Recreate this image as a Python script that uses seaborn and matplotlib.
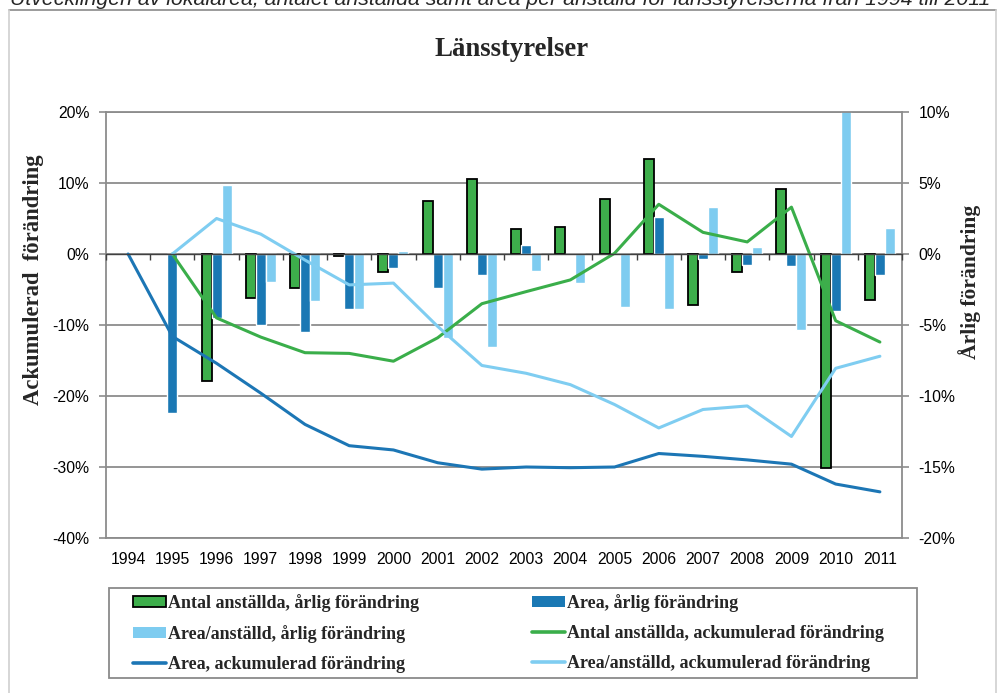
import numpy as np
import pandas as pd
import matplotlib
matplotlib.use("Agg")
import matplotlib.pyplot as plt
import seaborn as sns
from matplotlib.patches import Patch, Rectangle
from matplotlib.lines import Line2D
from matplotlib.ticker import FixedLocator, FuncFormatter, NullFormatter
from matplotlib.font_manager import FontProperties

# --- data (in percent) ---
years = ["1994", "1995", "1996", "1997", "1998", "1999", "2000", "2001", "2002",
         "2003", "2004", "2005", "2006", "2007", "2008", "2009", "2010", "2011"]

# annual change (right axis)
antal_arlig = [np.nan, np.nan, -8.97, -3.1, -2.4, -0.14, -1.24, 3.75, 5.3,
               1.75, 1.87, 3.9, 6.67, -3.58, -1.3, 4.6, -15.05, -3.23]
area_arlig = [np.nan, -11.2, -4.5, -5.0, -5.5, -3.9, -1.0, -2.4, -1.5,
              0.6, -0.1, -0.03, 2.6, -0.37, -0.8, -0.84, -4.0, -1.5]
per_arlig = [np.nan, np.nan, 4.85, -2.0, -3.3, -3.9, 0.23, -5.9, -6.55,
             -1.17, -2.06, -3.7, -3.86, 3.3, 0.5, -5.34, 11.0, 1.8]

# accumulated change (left axis)
antal_ack = [np.nan, 0.0, -9.0, -11.7, -13.9, -14.0, -15.1, -11.8, -7.0,
             -5.3, -3.65, 0.1, 7.0, 3.05, 1.7, 6.6, -9.4, -12.4]
area_ack = [0.0, -11.6, -15.4, -19.6, -24.0, -27.0, -27.6, -29.4, -30.3,
            -30.0, -30.1, -30.0, -28.1, -28.5, -29.0, -29.6, -32.4, -33.5]
per_ack = [np.nan, 0.0, 5.0, 2.8, -0.85, -4.35, -4.1, -10.2, -15.7,
           -16.8, -18.4, -21.2, -24.5, -21.9, -21.4, -25.7, -16.1, -14.4]

bar_names = ["Antal anställda, årlig förändring", "Area, årlig förändring",
             "Area/anställd, årlig förändring"]
line_names = ["Antal anställda, ackumulerad förändring", "Area, ackumulerad förändring",
              "Area/anställd, ackumulerad förändring"]

green_bar, dark_bar, light_bar = "#3DAE4B", "#1A78B4", "#7ECCF0"
green_line, dark_line, light_line = "#3AAE4A", "#1C76B5", "#7FCDF1"
grid_col = "#8c8c8c"

bars = pd.DataFrame({
    "år": years * 3,
    "värde": antal_arlig + area_arlig + per_arlig,
    "serie": [bar_names[0]] * 18 + [bar_names[1]] * 18 + [bar_names[2]] * 18,
})
lines = pd.DataFrame({
    "år": years * 3,
    "värde": antal_ack + area_ack + per_ack,
    "serie": [line_names[0]] * 18 + [line_names[1]] * 18 + [line_names[2]] * 18,
})

sns.set_theme(style="white")
plt.rcParams["font.family"] = ["Liberation Sans", "DejaVu Sans"]
serif_bold = dict(family="Liberation Serif", weight="bold")

fig = plt.figure(figsize=(9.97, 6.93), dpi=100)
fig.patch.set_facecolor("white")
W, H = 997, 693
ax = fig.add_axes([106 / W, 1 - 538 / H, (902 - 106) / W, (538 - 112) / H])

# accumulated lines on the left axis
sns.lineplot(data=lines, x="år", y="värde", hue="serie", hue_order=line_names,
             palette=[green_line, dark_line, light_line], linewidth=2.2,
             legend=False, sort=False, ax=ax)

# annual bars on the right axis
ax2 = ax.twinx()
sns.barplot(data=bars, x="år", y="värde", hue="serie", hue_order=bar_names,
            palette=[green_bar, dark_bar, light_bar], width=0.68, saturation=1,
            errorbar=None, legend=False, ax=ax2)
for b in ax2.containers[0]:
    b.set_edgecolor("black")
    b.set_linewidth(1.3)

ax.set_zorder(ax2.get_zorder() + 1)
ax.patch.set_visible(False)

ax.set_ylim(-40, 20)
ax2.set_ylim(-20, 10)
ax.set_xlim(-0.5, len(years) - 0.5)
ax.set_yticks([-40, -30, -20, -10, 0, 10, 20])
ax2.set_yticks([-20, -15, -10, -5, 0, 5, 10])
pct = FuncFormatter(lambda v, p: f"{v:.0f}%")
ax.yaxis.set_major_formatter(pct)
ax2.yaxis.set_major_formatter(pct)

for a in (ax, ax2):
    a.set_xlabel("")
    a.set_ylabel("")
    a.tick_params(axis="y", length=5, width=1.2, color=grid_col, pad=7,
                  labelsize=11.3, labelcolor="black")

# gridlines from the right axis (they coincide with the left ticks)
ax2.yaxis.grid(True, color=grid_col, linewidth=1.3)
ax2.set_axisbelow(True)
ax.grid(False)
ax2.xaxis.grid(False)

# category axis: labels at bottom, small ticks between categories on the 0 line
ax.xaxis.set_minor_locator(FixedLocator(np.arange(-0.5, len(years), 1.0)))
ax.xaxis.set_minor_formatter(NullFormatter())
ax.spines["bottom"].set_position(("data", 0))
ax.spines["bottom"].set_color("#404040")
ax.spines["bottom"].set_linewidth(1.0)
ax.tick_params(axis="x", which="major", length=0, labelbottom=False)
ax.tick_params(axis="x", which="minor", length=4, width=1.0, color="#404040",
               direction="out", bottom=True)
ax.spines["top"].set_visible(False)
for s in ("left", "right"):
    ax.spines[s].set_visible(False)

ax2.xaxis.set_visible(True)
ax2.tick_params(axis="x", which="both", length=0, pad=10, labelsize=11.3,
                labelcolor="black", labelbottom=True)
for s in ("left", "right", "top", "bottom"):
    ax2.spines[s].set_visible(True)
    ax2.spines[s].set_color(grid_col)
    ax2.spines[s].set_linewidth(1.3)

# texts
fig.text(10 / W, 1 - 5 / H,
         "Utvecklingen av lokalarea, antalet anställda samt area per anställd för länsstyrelserna från 1994 till 2011",
         fontsize=15.3, style="italic", family="Liberation Sans", va="baseline", ha="left")
fig.text(512 / W, 1 - 50 / H, "Länsstyrelser", fontsize=19.3, ha="center", va="center",
         **serif_bold)
fig.text(33 / W, 1 - 280 / H, "Ackumulerad  förändring", rotation=90, fontsize=16.3,
         ha="center", va="center", **serif_bold)
fig.text(970 / W, 1 - 282 / H, "Årlig förändring", rotation=90, fontsize=15.5,
         ha="center", va="center", **serif_bold)

# outer frame
fig.add_artist(Line2D([8.5 / W, 996 / W], [1 - 9.5 / H, 1 - 9.5 / H],
                      transform=fig.transFigure, color="#8a8a8a", lw=1.2))
fig.add_artist(Line2D([8.5 / W, 8.5 / W], [0, 1 - 9.5 / H],
                      transform=fig.transFigure, color="#cfcfcf", lw=1.2))
fig.add_artist(Line2D([995.5 / W, 995.5 / W], [0, 1 - 9.5 / H],
                      transform=fig.transFigure, color="#cfcfcf", lw=1.2))

# legend
handles = [
    Patch(facecolor=green_bar, edgecolor="black", linewidth=1.3),
    Patch(facecolor=light_bar, edgecolor="none"),
    Line2D([], [], color=dark_line, lw=2.6),
    Patch(facecolor=dark_bar, edgecolor="none"),
    Line2D([], [], color=green_line, lw=2.6),
    Line2D([], [], color=light_line, lw=2.6),
]
labels = [bar_names[0], bar_names[2], line_names[1],
          bar_names[1], line_names[0], line_names[2]]
fig.legend(handles, labels, ncol=2, loc="upper left",
           bbox_to_anchor=(133 / W, 1 - 594 / H), frameon=False,
           borderpad=0, borderaxespad=0, handlelength=1.83, handleheight=0.6,
           handletextpad=0.12, labelspacing=0.71, columnspacing=6.25,
           prop=FontProperties(family="Liberation Serif", weight="bold", size=13))
fig.add_artist(Rectangle((109 / W, 1 - 678 / H), 808 / W, 90 / H,
                         transform=fig.transFigure, fill=False,
                         edgecolor="#8a8a8a", lw=1.3))

fig.savefig("out.png", dpi=100)
